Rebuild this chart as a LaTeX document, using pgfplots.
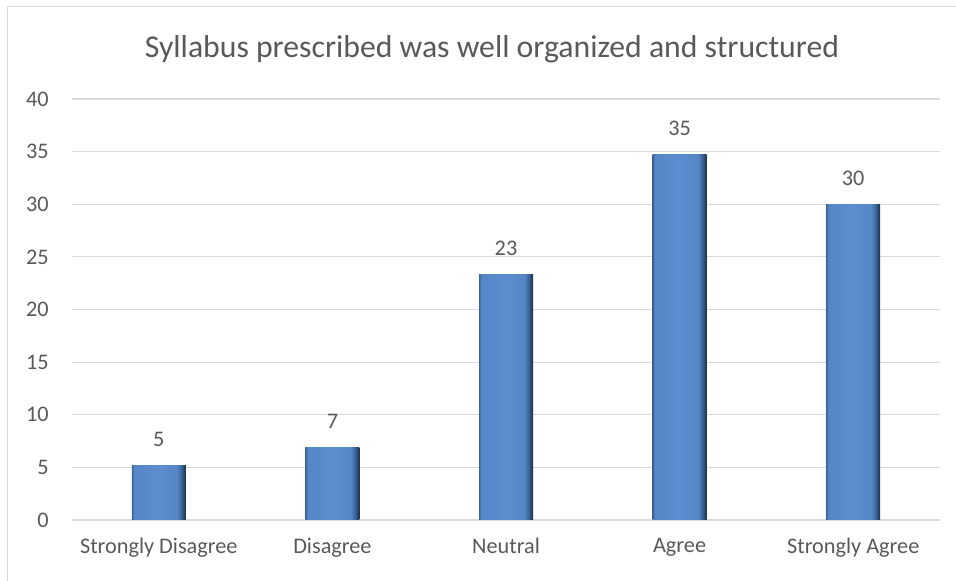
\documentclass[border=0pt]{standalone}
\usepackage{fontspec}
\setmainfont{Carlito}
\usepackage{pgfplots}
\pgfplotsset{compat=1.18}

\definecolor{gridgrey}{HTML}{D9D9D9}
\definecolor{textgrey}{HTML}{595959}
\definecolor{bedge}{HTML}{3A6397}
\definecolor{bbody}{HTML}{5586C6}
\definecolor{blight}{HTML}{5B8DD0}
\definecolor{bdark}{HTML}{1B2E48}
\pgfdeclarehorizontalshading{barshade}{100bp}{
  color(0bp)=(bedge); color(25bp)=(bedge); color(27bp)=(bbody);
  color(50bp)=(blight); color(67bp)=(bbody); color(71bp)=(bedge);
  color(75bp)=(bdark); color(100bp)=(bdark)}

\begin{document}
\begin{tikzpicture}
\useasboundingbox (0,0) rectangle (717pt,435.75pt);
% outer chart border (left and top visible)
\draw[gridgrey, line width=0.8pt] (5.6pt,0) -- (5.6pt,430.6pt) -- (717pt,430.6pt);
\node[text=textgrey, font=\fontsize{23.8}{28}\selectfont, anchor=center] at (369pt,399pt)
  {Syllabus prescribed was well organized and structured};
\begin{axis}[
    at={(54pt,45.75pt)}, anchor=south west,
    scale only axis, width=651pt, height=315.75pt,
    xmin=-0.5, xmax=4.5, ymin=0, ymax=40,
    ytick={0,5,...,40},
    xtick={0,1,2,3,4},
    xticklabels={Strongly Disagree, Disagree, Neutral, Agree, Strongly Agree},
    axis x line*=bottom, axis y line*=left,
    x axis line style={gridgrey, line width=0.8pt, -},
    y axis line style={draw=none},
    ymajorgrids, grid style={gridgrey, line width=0.8pt},
    major tick length=0pt,
    tick label style={text=textgrey, font=\fontsize{16.7}{20}\selectfont},
    /pgf/number format/assume math mode=true,
    yticklabel style={xshift=-14pt},
    xticklabel style={yshift=-10pt},
    clip=false,
    ybar, bar width=40.5pt, bar shift=0pt,
    point meta=explicit symbolic,
    nodes near coords,
    nodes near coords style={text=textgrey, font=\fontsize{16.7}{20}\selectfont, yshift=10.5pt},
    every axis plot/.append style={draw=none, shading=barshade},
]
\addplot coordinates {(0,5.2) [5]};
\addplot coordinates {(1,6.9) [7]};
\addplot coordinates {(2,23.3) [23]};
\addplot coordinates {(3,34.7) [35]};
\addplot coordinates {(4,30.0) [30]};
\end{axis}
\end{tikzpicture}
\end{document}
